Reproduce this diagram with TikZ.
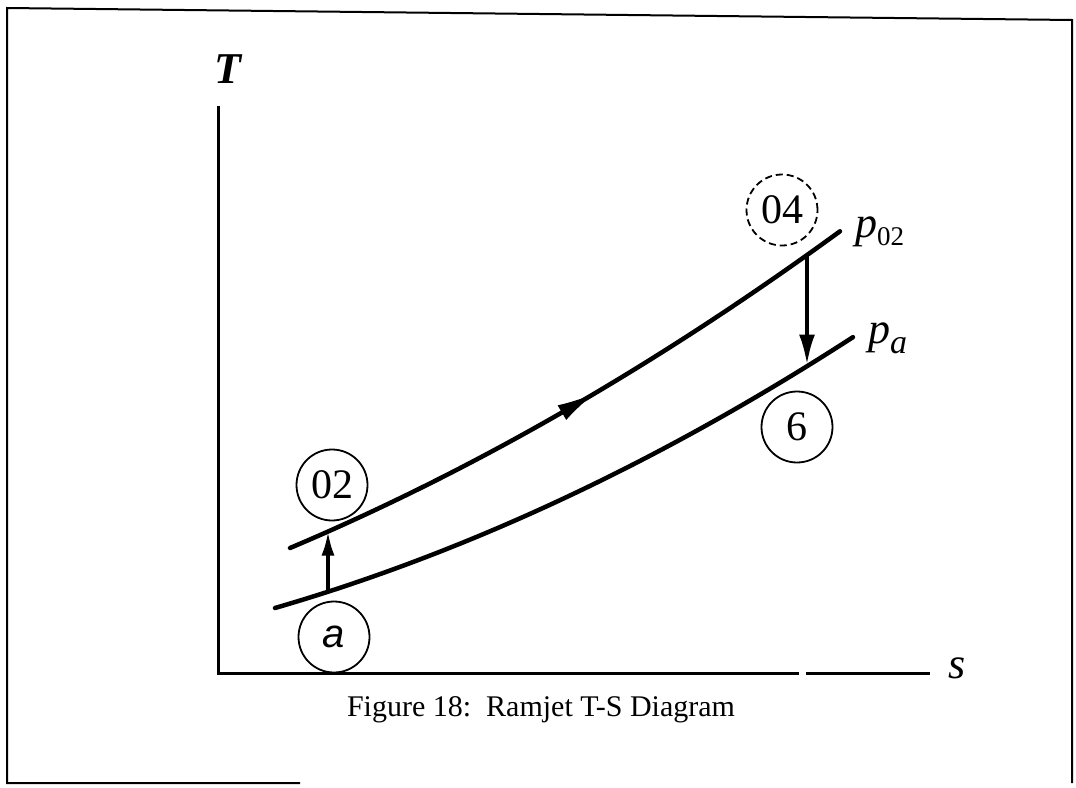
\documentclass[tikz,border=0pt]{standalone}
\usepackage{fontspec}
\setmainfont{Liberation Serif}
\setsansfont{Liberation Sans}
\usetikzlibrary{arrows.meta}
\begin{document}
\begin{tikzpicture}[x=1pt,y=-1pt,
  frame/.style={line width=2pt},
  axis/.style={line width=3pt},
  curve/.style={line width=4.5pt, line cap=round},
  state/.style={circle, draw, line width=1.8pt, minimum size=71pt, inner sep=0pt, font=\fontsize{42}{42}\selectfont},
  proc/.style={line width=3.5pt, -{Latex[length=30pt,width=16pt]}},
  lbl/.style={inner sep=0pt, font=\fontsize{44}{44}\selectfont\itshape},
]
\useasboundingbox (0,0) rectangle (1076,787);
% frame
\draw[frame] (300,783) -- (7,783) -- (7,8) -- (1072,20) -- (1072,783);
% axes
\coordinate (O) at (218,673);
\coordinate (Ttop) at (218,106);
\coordinate (sgap1) at (799,673);
\coordinate (sgap2) at (806,673);
\coordinate (send) at (930,673);
\draw[axis] (Ttop) -- (O) -- (sgap1);
\draw[axis] (sgap2) -- (send);
\node[lbl, font=\fontsize{44}{44}\selectfont\itshape\bfseries] (Tl) at (228,69) {T};
\node[lbl] (sl) at (957,668) {s};
% curves
\draw[curve] plot[domain=0:5.5, samples=56] ({290+100*\x},{548-42.24*\x-2.79*\x*\x});
\draw[curve] plot[domain=0:5.78, samples=58] ({275+100*\x},{608-29.06*\x-3.08*\x*\x});
% flow arrow on upper curve
\coordinate (fa1) at (563,412.0);
\coordinate (fa2) at (593,394.4);
\draw[line width=1pt, -{Latex[length=36pt,width=17pt]}] (fa1) -- (fa2);
% points on curves
\coordinate (la) at (328,591.7);
\coordinate (u02) at (328,531.5);
\coordinate (u04) at (807,255.0);
\coordinate (l6) at (807,364.5);
\draw[proc, -{Latex[length=24pt,width=13pt]}] (la) -- (u02);
\draw[proc] (u04) -- (l6);
% state circles
\node[state] (s02) at (332,485) {02};
\node[state, font=\fontsize{40}{40}\selectfont\sffamily\itshape] (sa) at (334,637) {a};
\node[state] (s6) at (797,427) {6};
\node[state, dashed, dash pattern=on 7pt off 4pt] (s04) at (782,210) {04};
% pressure labels
\node[lbl, anchor=base west] (p02) at (855,237) {p\raisebox{-8pt}{\fontsize{27}{27}\selectfont\upshape 02}};
\node[lbl, anchor=base west] (pa) at (868,343) {p\raisebox{-10pt}{\fontsize{34}{34}\selectfont a}};
% caption
\node[font=\fontsize{30}{30}\selectfont] (cap) at (541,710) {Figure 18:\ \ Ramjet T-S Diagram};
\end{tikzpicture}
\end{document}
